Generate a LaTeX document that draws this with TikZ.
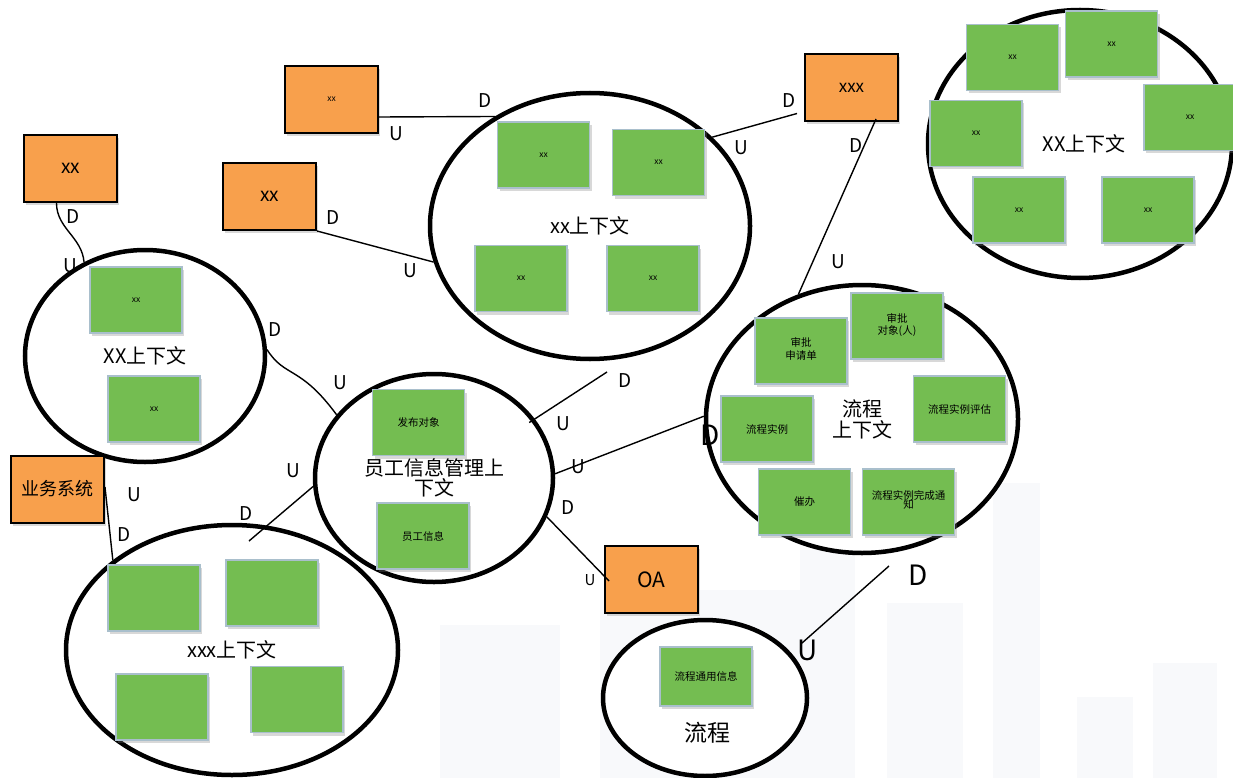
\documentclass[tikz,border=0pt]{standalone}
\usepackage{fontspec}
\setmainfont{Noto Sans CJK SC}
\usetikzlibrary{shapes.geometric,shadows}

\definecolor{extfill}{HTML}{F8A04C}
\definecolor{entfill}{HTML}{74BD51}
\definecolor{entedge}{HTML}{A9BFCC}
\definecolor{skyline}{HTML}{F8F9FB}

\tikzset{
  ctx/.style={ellipse, draw, line width=4.5pt, fill=white, inner sep=0pt,
    align=center, font=\fontsize{20}{24}\selectfont},
  ext/.style={draw, line width=2pt, fill=extfill, minimum width=93pt,
    minimum height=67pt, inner sep=0pt,
    drop shadow={shadow xshift=2pt, shadow yshift=-3pt, opacity=.3}},
  ent/.style={draw=entedge, line width=1.6pt, fill=entfill, minimum width=92pt,
    minimum height=66pt, inner sep=0pt, align=center,
    font=\fontsize{10.5}{11}\selectfont,
    drop shadow={shadow xshift=2pt, shadow yshift=-3pt, opacity=.3}},
  tiny/.style={font=\fontsize{8.5}{9}\selectfont},
  lab/.style={inner sep=0pt, font=\fontsize{19}{19}\selectfont},
  biglab/.style={inner sep=0pt, font=\fontsize{28}{28}\selectfont},
  smalllab/.style={inner sep=0pt, font=\fontsize{15}{15}\selectfont},
  conn/.style={line width=1.4pt},
  bldg/.style={fill=skyline, draw=none}
}

\begin{document}
\begin{tikzpicture}[x=1pt, y=-1pt]
\clip (0,0) rectangle (1233,778);
\fill[white] (0,0) rectangle (1233,778);

% faint skyline in the background
\fill[bldg] (440,625) rectangle (560,778);
\fill[bldg] (600,600) rectangle (700,778);
\fill[bldg] (700,590) rectangle (800,778);
\fill[bldg] (800,550) rectangle (855,778);
\fill[bldg] (887,603) rectangle (963,778);
\fill[bldg] (993,483) rectangle (1040,778);
\fill[bldg] (1077,697) rectangle (1133,778);
\fill[bldg] (1153,663) rectangle (1217,778);

% bounded contexts
\node[ctx, minimum width=320pt, minimum height=266pt] (A) at (590,226) {\raisebox{-2pt}{xx上下文}};
\node[ctx, minimum width=304pt, minimum height=268pt] (T) at (1080,144) {\hspace*{8pt}XX上下文};
\node[ctx, minimum width=240pt, minimum height=212pt] (L) at (145,356) {XX上下文};
\node[ctx, minimum width=238pt, minimum height=208pt] (E) at (434,478) {员工信息管理上\\[-4pt]下文};
\node[ctx, minimum width=332pt, minimum height=250pt] (X) at (232,650) {xxx上下文};
\node[ctx, minimum width=312pt, minimum height=268pt] (F) at (862,419) {流程\\[-3pt]上下文};
\node[ctx, minimum width=204pt, minimum height=156pt] (P) at (705,698) {};
\node[inner sep=0pt, font=\fontsize{23}{24}\selectfont] (Plabel) at (707,733) {流程};

% entities inside xx上下文
\node[ent, tiny] (a1) at (543.5,155) {xx};
\node[ent, tiny] (a2) at (658.5,162.5) {xx};
\node[ent, tiny] (a3) at (521,278.5) {xx};
\node[ent, tiny] (a4) at (653,278.5) {xx};

% entities inside the upper XX上下文
\node[ent, tiny] (t1) at (1012.5,57.5) {xx};
\node[ent, tiny] (t2) at (1111.5,44) {xx};
\node[ent, tiny] (t3) at (1190,117.5) {xx};
\node[ent, tiny] (t4) at (976,133.5) {xx};
\node[ent, tiny] (t5) at (1019,210) {xx};
\node[ent, tiny] (t6) at (1148,210) {xx};

% entities inside the left XX上下文
\node[ent, tiny] (l1) at (136,300) {xx};
\node[ent, tiny] (l2) at (154,409) {xx};

% entities inside 员工信息管理上下文
\node[ent] (e1) at (418.5,422.5) {发布对象};
\node[ent] (e2) at (423,536) {员工信息};

% entities inside xxx上下文
\node[ent] (x1) at (154,598) {};
\node[ent] (x2) at (272,593) {};
\node[ent] (x3) at (162,707) {};
\node[ent] (x4) at (297,699.5) {};

% entities inside 流程上下文
\node[ent] (f1) at (801,351) {\raisebox{5pt}{\shortstack{审批\\申请单}}};
\node[ent] (f2) at (897,326) {\raisebox{4pt}{\shortstack{审批\\对象(人)}}};
\node[ent] (f3) at (959.5,409) {流程实例评估};
\node[ent] (f4) at (767,429) {流程实例};
\node[ent] (f5) at (804.5,502) {催办};
\node[ent] (f6) at (908.5,502) {\raisebox{5pt}{\shortstack{流程实例完成通\\[-3pt]知}}};

% entity inside 流程
\node[ent, minimum height=59pt] (p1) at (706,676.5) {流程通用信息};

% external systems
\node[ext, font=\fontsize{19}{19}\selectfont] (o1) at (70.5,168.5) {xx};
\node[ext, tiny] (o2) at (331.5,99.5) {xx};
\node[ext, font=\fontsize{19}{19}\selectfont] (o3) at (269.5,196.5) {xx};
\node[ext, font=\fontsize{17}{17}\selectfont] (o4) at (851.5,87.5) {xxx};
\node[ext, font=\fontsize{18}{18}\selectfont] (o5) at (57.5,489) {业务系统};
\node[ext, font=\fontsize{21}{21}\selectfont] (o6) at (651.5,579.5) {OA};

% free ends of open relations
\coordinate (free7) at (607,372);
\coordinate (free10) at (249,541);
\coordinate (free12a) at (889,566);
\coordinate (free12b) at (802,643);

% relations
\draw[conn] ([xshift=-14pt]o1.south) to[out=-90, in=95] (L.123);
\draw[conn] ([yshift=-17.5pt]o2.east) -- (A.131);
\draw[conn] (o3.south east) -- (A.193);
\draw[conn] ([shift={(-7pt,-26pt)}]o4.west) -- (A.36);
\draw[conn] ([shift={(24.5pt,3pt)}]o4.south) -- (F.117);
\draw[conn] (L.3) .. controls (285,378) and (300,365) .. (E.147);
\draw[conn] ([shift={(-6pt,-3pt)}]E.30) -- (free7);
\draw[conn] (E.2) -- (F.179);
\draw[conn] (E.-19) -- ([shift={(5pt,-1.5pt)}]o6.west);
\draw[conn] (E.184) -- (free10);
\draw[conn] ([yshift=2pt]o5.east) -- (X.143);
\draw[conn] (free12a) -- (free12b);

% upstream / downstream marks
\node[lab] (d1) at (73,217) {D};
\node[lab] (u1) at (70,266) {U};
\node[lab] (d2) at (485,101) {D};
\node[lab] (u2) at (396,134) {U};
\node[lab] (d3) at (333,218) {D};
\node[lab] (u3) at (410,271) {U};
\node[lab] (d4) at (789,101) {D};
\node[lab] (u4) at (741,148) {U};
\node[lab] (d5) at (856,146) {D};
\node[lab] (u5) at (838,262) {U};
\node[lab] (d6) at (275,330) {D};
\node[lab] (u6) at (340,383) {U};
\node[lab] (d7) at (625,381) {D};
\node[lab] (u7) at (563,424) {U};
\node[lab] (u8) at (578,467) {U};
\node[biglab] (d8) at (710,435) {D};
\node[lab] (d9) at (568,508) {D};
\node[smalllab] (u9) at (590,580) {U};
\node[lab] (u10) at (293,471) {U};
\node[lab] (d10) at (246,514) {D};
\node[lab] (u11) at (134,495) {U};
\node[lab] (d11) at (124,535) {D};
\node[biglab] (d12) at (918,575) {D};
\node[biglab] (u12) at (808,650) {U};
\end{tikzpicture}
\end{document}
